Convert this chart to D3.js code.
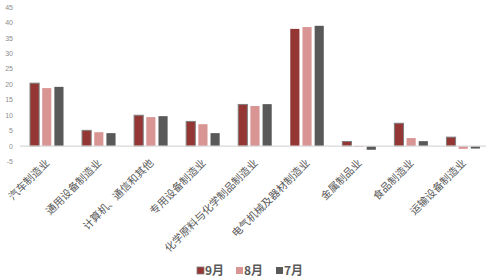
<!DOCTYPE html>
<html lang="zh">
<head>
<meta charset="UTF-8">
<script src="https://d3js.org/d3.v7.min.js"></script>
<style>
    body { margin: 0; background: #fff; }
    svg { display: block; font-family: "Noto Sans CJK SC", "DejaVu Sans", sans-serif; }
</style>
</head>
<body>
<div id="chart"></div>
<script>
    // categories and series
    var categories = ["汽车制造业", "通用设备制造业", "计算机、通信和其他", "专用设备制造业",
        "化学原料与化学制品制造业", "电气机械及器材制造业", "金属制品业", "食品制造业", "运输设备制造业"];
    var months = ["9月", "8月", "7月"];
    var sep = [20.4, 5.1, 10.0, 8.0, 13.5, 38.0, 1.5, 7.4, 2.9];
    var aug = [18.8, 4.5, 9.4, 7.1, 13.0, 38.6, -0.3, 2.6, -0.9];
    var jul = [19.2, 4.2, 9.7, 4.2, 13.6, 39.0, -1.2, 1.6, -0.8];
    var yTicks = [45, 40, 35, 30, 25, 20, 15, 10, 5, 0, -5];

    var series = [sep, aug, jul];
    var colors = ["#943634", "#d99594", "#595959"];

    var width = 486, height = 278;

    var svg = d3.select("#chart").append("svg")
        .attr("width", width)
        .attr("height", height);

    var y = d3.scaleLinear().domain([-5, 45]).range([161.5, 7.3]);
    var x0 = d3.scaleBand().domain(categories).range([20.5, 489]).padding(0);
    var x1 = d3.scaleBand().domain(months).range([9.5, 43]).paddingInner(0.25);

    // y tick labels
    svg.append("g").selectAll("text")
        .data(yTicks)
        .enter().append("text")
        .attr("x", 13)
        .attr("y", d => y(d))
        .attr("dy", "0.35em")
        .attr("text-anchor", "end")
        .attr("font-family", "Liberation Sans, sans-serif")
        .attr("font-size", 7)
        .attr("fill", "#8c8c8c")
        .text(d => d);

    // bars
    var groups = svg.append("g").selectAll("g")
        .data(categories)
        .enter().append("g")
        .attr("transform", d => "translate(" + x0(d) + ",0)");

    groups.selectAll("rect")
        .data((d, i) => months.map((m, j) => ({ m: m, j: j, v: series[j][i], ci: i })))
        .enter().append("rect")
        .attr("x", d => x1(d.m))
        .attr("width", x1.bandwidth())
        .attr("y", d => y(Math.max(0, d.v)))
        .attr("height", d => Math.abs(y(d.v) - y(0)))
        .attr("fill", d => colors[d.j])
        .attr("stroke", d => (d.j === 0 && d.ci !== 5) ? "#7f7f7f" : "none")
        .attr("stroke-width", 1);

    // zero line
    svg.append("line")
        .attr("x1", 20).attr("x2", 486)
        .attr("y1", y(0)).attr("y2", y(0))
        .attr("stroke", "#d9d9d9")
        .attr("stroke-width", 1.2);

    // category labels, rotated
    svg.append("g").selectAll("text")
        .data(categories)
        .enter().append("text")
        .attr("transform", d => "translate(" + (x0(d) + x0.bandwidth() / 2 + 1) + "," + 161 + ") rotate(-45)")
        .attr("text-anchor", "end")
        .attr("dy", "0.35em")
        .attr("font-size", 10.5)
        .attr("fill", "#595959")
        .text(d => d);

    // legend
    var legend = svg.append("g");
    var legendX = [197, 236, 276];
    months.forEach(function (m, j) {
        legend.append("rect")
            .attr("x", legendX[j]).attr("y", 267)
            .attr("width", 7).attr("height", 7)
            .attr("fill", colors[j])
            .attr("stroke", j === 0 ? "#7f7f7f" : "none")
            .attr("stroke-width", 0.8);
        legend.append("text")
            .attr("x", legendX[j] + 8).attr("y", 270.5)
            .attr("dy", "0.35em")
            .attr("font-size", 12)
            .attr("font-weight", "bold")
            .attr("fill", "#595959")
            .text(m);
    });
</script>
</body>
</html>
